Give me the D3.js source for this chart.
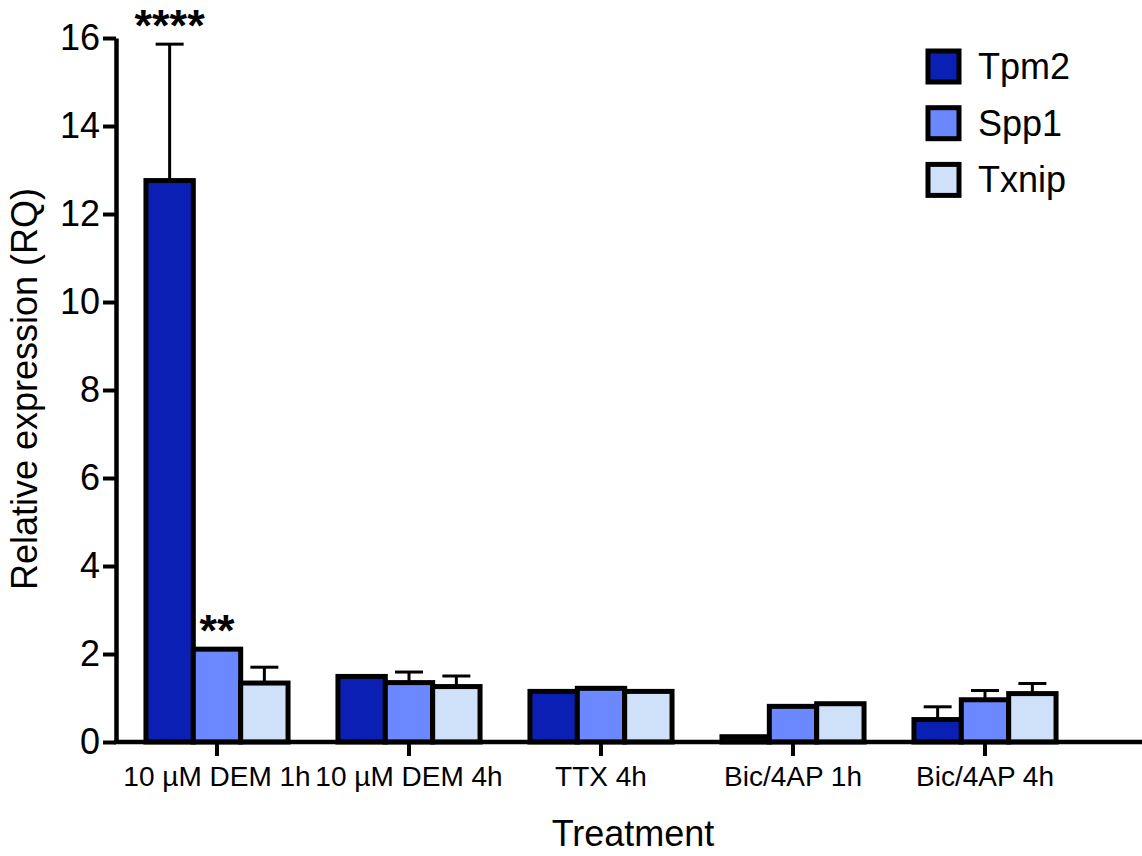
<!DOCTYPE html>
<html>
<head>
<meta charset="utf-8">
<script src="https://cdn.jsdelivr.net/npm/d3@7"></script>
<style>
  html, body { margin: 0; padding: 0; background: #fff; }
  svg { display: block; font-family: "Liberation Sans", Arial, Helvetica, sans-serif; }
</style>
</head>
<body>
<div id="chart"></div>
<script>
// data
const treatments = ["10 µM DEM 1h", "10 µM DEM 4h", "TTX 4h", "Bic/4AP 1h", "Bic/4AP 4h"];
const genes = ["Tpm2", "Spp1", "Txnip"];
const tpm2 = [12.76, 1.49, 1.15, 0.12, 0.51];
const spp1 = [2.11, 1.35, 1.22, 0.81, 0.96];
const txnip = [1.34, 1.26, 1.15, 0.87, 1.10];
const tpm2Err = [3.10, 0, 0, 0, 0.29];
const spp1Err = [0, 0.24, 0, 0, 0.21];
const txnipErr = [0.36, 0.24, 0, 0, 0.23];
const yTicks = [0, 2, 4, 6, 8, 10, 12, 14, 16];
const stars = [
    { treatment: "10 µM DEM 1h", gene: "Tpm2", label: "****" },
    { treatment: "10 µM DEM 1h", gene: "Spp1", label: "**" }
];

const colors = { Tpm2: "#0a20b4", Spp1: "#6b88ff", Txnip: "#cfe1f8" };

const width = 1142, height = 856;
const means = { Tpm2: tpm2, Spp1: spp1, Txnip: txnip };
const errs = { Tpm2: tpm2Err, Spp1: spp1Err, Txnip: txnipErr };

const rows = [];
treatments.forEach((t, i) => {
    genes.forEach(g => rows.push({ treatment: t, gene: g, value: means[g][i], err: errs[g][i] }));
});

const svg = d3.select("#chart").append("svg")
    .attr("width", width)
    .attr("height", height)
    .attr("viewBox", [0, 0, width, height]);

const axisX = 116;

const y = d3.scaleLinear()
    .domain([0, 16])
    .range([742, 38]);

const x0 = d3.scaleBand()
    .domain(treatments)
    .range([121, 1081])
    .paddingInner(0.26)
    .paddingOuter(0.13);

const x1 = d3.scaleBand()
    .domain(genes)
    .range([0, x0.bandwidth()]);

const barMid = d => x0(d.treatment) + x1(d.gene) + x1.bandwidth() / 2;

// error bars (upward only), drawn under the bars
const errG = svg.append("g")
    .attr("stroke", "#000")
    .attr("stroke-width", 3)
    .attr("fill", "none");

const withErr = rows.filter(d => d.err > 0);
errG.selectAll("line.stem")
    .data(withErr)
    .join("line")
    .attr("class", "stem")
    .attr("x1", barMid)
    .attr("x2", barMid)
    .attr("y1", d => y(d.value))
    .attr("y2", d => y(d.value + d.err));

errG.selectAll("line.cap")
    .data(withErr)
    .join("line")
    .attr("class", "cap")
    .attr("x1", d => barMid(d) - 14)
    .attr("x2", d => barMid(d) + 14)
    .attr("y1", d => y(d.value + d.err))
    .attr("y2", d => y(d.value + d.err));

// bars
svg.append("g")
    .selectAll("rect")
    .data(rows)
    .join("rect")
    .attr("x", d => x0(d.treatment) + x1(d.gene))
    .attr("y", d => y(d.value))
    .attr("width", x1.bandwidth())
    .attr("height", d => y(0) - y(d.value))
    .attr("fill", d => colors[d.gene])
    .attr("stroke", "#000")
    .attr("stroke-width", 5);

// significance stars
svg.append("g")
    .selectAll("text")
    .data(stars)
    .join("text")
    .attr("x", d => barMid(rows.find(r => r.treatment === d.treatment && r.gene === d.gene)))
    .attr("y", d => {
        const r = rows.find(r => r.treatment === d.treatment && r.gene === d.gene);
        return y(r.value + r.err) - 3;
    })
    .attr("text-anchor", "middle")
    .attr("font-size", 45)
    .attr("font-weight", "bold")
    .text(d => d.label);

// y axis
const yAxis = svg.append("g")
    .attr("transform", `translate(${axisX},0)`)
    .call(d3.axisLeft(y).tickValues(yTicks).tickSize(13).tickSizeOuter(0).tickPadding(3));
yAxis.select(".domain").attr("stroke-width", 4.5);
yAxis.selectAll(".tick line").attr("stroke-width", 4);
yAxis.selectAll(".tick text")
    .attr("font-size", 36)
    .attr("font-family", "Liberation Sans, Arial, sans-serif")
    .attr("fill", "#000");

// x axis
const xAxis = svg.append("g")
    .attr("transform", `translate(0,${y(0)})`)
    .call(d3.axisBottom(x0).tickSize(14).tickSizeOuter(0).tickPadding(10));
xAxis.select(".domain").remove();
xAxis.selectAll(".tick line").attr("stroke-width", 4);
xAxis.selectAll(".tick text")
    .attr("font-size", 28)
    .attr("font-family", "Liberation Sans, Arial, sans-serif")
    .attr("fill", "#000");
xAxis.append("line")
    .attr("x1", axisX - 2)
    .attr("x2", width)
    .attr("stroke", "#000")
    .attr("stroke-width", 4.5);

// axis titles
svg.append("text")
    .attr("transform", `translate(37,${(y(0) + y(16)) / 2 - 1}) rotate(-90)`)
    .attr("text-anchor", "middle")
    .attr("font-size", 36)
    .text("Relative expression (RQ)");

svg.append("text")
    .attr("x", 633)
    .attr("y", 846)
    .attr("text-anchor", "middle")
    .attr("font-size", 36)
    .text("Treatment");

// legend
const legend = svg.append("g")
    .attr("transform", "translate(928,51)")
    .selectAll("g")
    .data(genes)
    .join("g")
    .attr("transform", (d, i) => `translate(0,${i * 56.7})`);

legend.append("rect")
    .attr("width", 31)
    .attr("height", 31)
    .attr("fill", d => colors[d])
    .attr("stroke", "#000")
    .attr("stroke-width", 5);

legend.append("text")
    .attr("x", 50)
    .attr("y", 28)
    .attr("font-size", 36)
    .text(d => d);
</script>
</body>
</html>
